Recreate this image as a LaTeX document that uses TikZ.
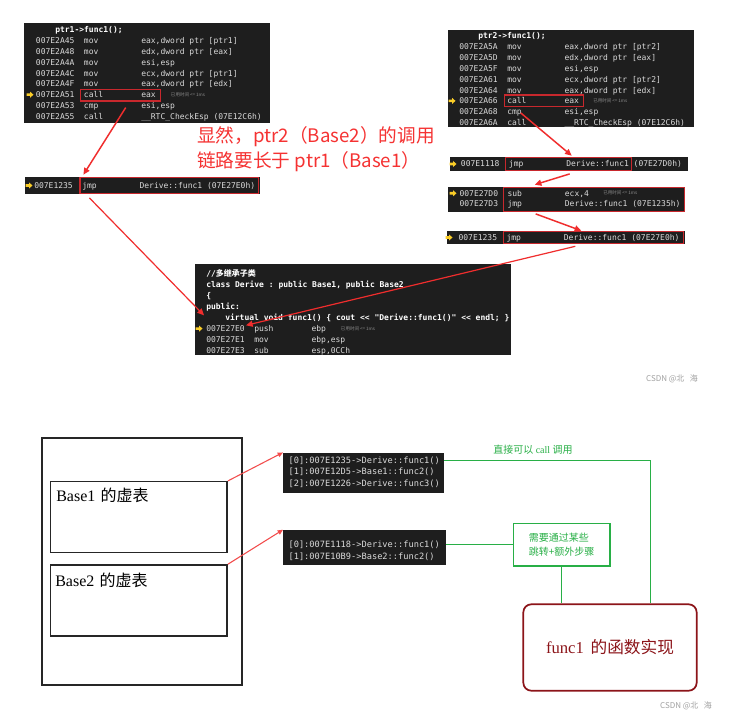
\documentclass[tikz,border=0pt]{standalone}
\usepackage{fontspec}
\setmainfont{Liberation Serif}
\setmonofont{DejaVu Sans Mono}
\newfontfamily\cjk{Noto Sans CJK SC}
\usepackage{tikz}
\usetikzlibrary{arrows.meta,positioning,calc,fit}
\definecolor{vsdark}{RGB}{30,30,30}
\definecolor{vstext}{RGB}{218,218,218}
\definecolor{vsgrey}{RGB}{140,140,140}
\definecolor{markred}{RGB}{200,40,45}
\definecolor{arrowred}{RGB}{240,45,45}
\definecolor{notered}{RGB}{245,50,50}
\definecolor{linkgreen}{RGB}{40,175,70}
\definecolor{implred}{RGB}{140,20,25}
\definecolor{pinyellow}{RGB}{250,205,40}
\definecolor{wmgrey}{RGB}{160,160,160}

% one disassembly row: name, x, y, address, mnemonic, operands
\newcommand{\asmrow}[6]{%
  \node[code] (#1) at (#2,#3) {\makebox[36pt][l]{#4}\makebox[43pt][l]{#5}#6};}
% yellow current-line marker
\newcommand{\pin}[2]{%
  \fill[pinyellow] (#1,#2) ++(-3.5,-1.3) -- ++(3.5,0) -- ++(0,-1.8) -- ++(3.5,3.1)
    -- ++(-3.5,3.1) -- ++(0,-1.8) -- ++(-3.5,0) -- cycle;}
\newcommand{\took}[3]{\node[took] (#1) at (#2,#3) {已用时间 <= 1ms};}

\begin{document}
\begin{tikzpicture}[x=0.75pt,y=-0.75pt,
  panel/.style={fill=vsdark,inner sep=0pt},
  markbox/.style={draw=markred,line width=0.9pt,inner sep=0pt},
  code/.style={anchor=base west,yshift=-2.2pt,inner sep=0pt,text=vstext,font=\ttfamily\fontsize{6}{7}\selectfont},
  head/.style={code,text=white,font=\ttfamily\bfseries\fontsize{6}{7}\selectfont},
  took/.style={anchor=west,inner sep=0pt,text=vsgrey,font=\cjk\fontsize{3.4}{4}\selectfont},
  vrow/.style={anchor=base west,yshift=-2.35pt,inner sep=0pt,text=vstext,font=\ttfamily\fontsize{6.5}{7.5}\selectfont},
  arr/.style={draw=arrowred,line width=1.1pt,-{Triangle[length=5pt,width=4.5pt]}},
  farr/.style={arr,line width=0.9pt},
  arr2/.style={draw=arrowred!85,line width=0.8pt,-{Triangle[length=4pt,width=3.5pt]}},
  box/.style={draw=black!85,line width=1.1pt,inner sep=0pt},
  vtbox/.style={box,minimum width=132.5pt,minimum height=53.3pt},
  vlabel/.style={anchor=base west,inner sep=0pt,font=\fontsize{12}{14}\selectfont},
  glink/.style={draw=linkgreen,line width=1pt},
  gtext/.style={text=linkgreen,font=\cjk\fontsize{7.5}{10.5}\selectfont},
  wm/.style={text=wmgrey,inner sep=0pt,font=\cjk\fontsize{6}{7}\selectfont}]
\fill[white] (0,0) rectangle (746,713);
\useasboundingbox (0,0) rectangle (746,713);

%% ptr1 call
\node[panel,fit={(24,23) (270,123)}] (tlp) {};
\node[markbox,fit={(80.7,89.3) (160.7,101)}] (call1) {};
\node[head] (tlh) at (55,30) {ptr1->func1();};
\asmrow{tl1}{35.7}{40.7}{007E2A45}{mov}{eax,dword ptr [ptr1]}
\asmrow{tl2}{35.7}{51.5}{007E2A48}{mov}{edx,dword ptr [eax]}
\asmrow{tl3}{35.7}{62.3}{007E2A4A}{mov}{esi,esp}
\asmrow{tl4}{35.7}{73.1}{007E2A4C}{mov}{ecx,dword ptr [ptr1]}
\asmrow{tl5}{35.7}{83.9}{007E2A4F}{mov}{eax,dword ptr [edx]}
\asmrow{tl6}{35.7}{94.7}{007E2A51}{call}{eax}
\asmrow{tl7}{35.7}{105.5}{007E2A53}{cmp}{esi,esp}
\asmrow{tl8}{35.7}{116.3}{007E2A55}{call}{\_\_RTC\_CheckEsp (07E12C6h)}
\pin{30}{94.7}
\took{tlt}{170.7}{94.7}

%% ptr2 call
\node[panel,fit={(448.3,30) (694,126.7)}] (trp) {};
\node[markbox,fit={(504.3,95) (583.3,106.3)}] (call2) {};
\node[head] (trh) at (478,35.5) {ptr2->func1();};
\asmrow{tr1}{459}{46.9}{007E2A5A}{mov}{eax,dword ptr [ptr2]}
\asmrow{tr2}{459}{57.7}{007E2A5D}{mov}{edx,dword ptr [eax]}
\asmrow{tr3}{459}{68.5}{007E2A5F}{mov}{esi,esp}
\asmrow{tr4}{459}{79.3}{007E2A61}{mov}{ecx,dword ptr [ptr2]}
\asmrow{tr5}{459}{90.1}{007E2A64}{mov}{eax,dword ptr [edx]}
\asmrow{tr6}{459}{100.9}{007E2A66}{call}{eax}
\asmrow{tr7}{459}{111.7}{007E2A68}{cmp}{esi,esp}
\asmrow{tr8}{459}{122.5}{007E2A6A}{call}{\_\_RTC\_CheckEsp (07E12C6h)}
\pin{452}{100.9}
\took{trt}{593}{100.9}

%% note
\node[anchor=west,align=left,inner sep=0pt,text=notered,font=\cjk\fontsize{14}{18.75}\selectfont] (note) at (197,149.5)
  {显然，ptr2（Base2）的调用\\链路要长于 ptr1（Base1）};

%% thunks
\node[panel,fit={(25,177) (260,194)}] (jlp) {};
\node[markbox,fit={(80,177.3) (258.3,193.3)}] (jl) {};
\asmrow{l1}{34}{185.5}{007E1235}{jmp}{Derive::func1 (07E27E0h)}
\pin{29}{185.5}

\node[panel,fit={(450,156.7) (688,170.7)}] (j1p) {};
\node[markbox,fit={(505.7,157.3) (631.7,170.3)}] (jb1) {};
\asmrow{r1}{460.7}{164}{007E1118}{jmp}{Derive::func1 (07E27D0h)}
\pin{453}{164}

\node[panel,fit={(448.3,186.7) (685,211.7)}] (j2p) {};
\node[markbox,fit={(503.3,187.3) (684.5,211.3)}] (jb2) {};
\asmrow{r2}{459.3}{193.3}{007E27D0}{sub}{ecx,4}
\asmrow{r3}{459.3}{204}{007E27D3}{jmp}{Derive::func1 (07E1235h)}
\pin{453}{193.3}
\took{r2t}{603}{193.3}

\node[panel,fit={(446.7,231) (685,244)}] (j3p) {};
\node[markbox,fit={(503.3,231.3) (683.3,243.7)}] (jb3) {};
\asmrow{r4}{458.3}{237.5}{007E1235}{jmp}{Derive::func1 (07E27E0h)}
\pin{449}{237.5}

%% Derive::func1
\node[panel,fit={(195,264) (511,355)}] (cpp) {};
\node[head] (cp1) at (206,274) {//{\cjk 多继承子类}};
\node[head] (cp2) at (206,284.8) {class Derive : public Base1, public Base2};
\node[head] (cp3) at (206,295.6) {\{};
\node[head] (cp4) at (206,306.4) {public:};
\node[head] (cp5) at (225,317.2) {virtual void func1() \{ cout << "Derive::func1()" << endl; \}};
\asmrow{cp6}{206}{328.6}{007E27E0}{push}{ebp}
\asmrow{cp7}{206}{339.4}{007E27E1}{mov}{ebp,esp}
\asmrow{cp8}{206}{350.2}{007E27E3}{sub}{esp,0CCh}
\pin{199}{328.6}
\took{cpt}{340.7}{328.6}

\draw[arr] ($(call1.south)+(5,6)$) -- ($(jl.north west)+(4,-2)$);
\draw[arr] ($(call2.south west)+(17,6)$) -- ($(jb1.north)+(3,-1)$);
\draw[arr] ($(jb1.south)+(1,3)$) -- ($(jb2.north west)+(32,-2)$);
\draw[arr] ($(jb2.south west)+(33,2)$) -- ($(jb3.north)+(-12,0)$);
\draw[farr] ($(jb3.south)+(-18,2)$) -- ($(cp6.west)+(40,-4)$);
\draw[farr] ($(jl.south west)+(10,4)$) -- ($(cp6.west)+(-2,-14)$);

\node[wm] (wm1) at (672,379) {CSDN @北\hspace{4pt}海};

%% object layout
\node[box,minimum width=150pt,minimum height=185.3pt] (obj) at (142,561.5) {};
\node[vtbox] (vb1) at (138.8,517.2) {};
\node[vtbox] (vb2) at (138.8,600.5) {};
\node[vlabel] (vb1l) at (56,501) {Base1\hspace{4pt}{\cjk 的虚表}};
\node[vlabel] (vb2l) at (55,586.5) {Base2\hspace{4pt}{\cjk 的虚表}};

\node[panel,fit={(283.3,452.7) (444,493.3)}] (vt1) {};
\foreach \t [count=\i from 0] in {{[0]:007E1235->Derive::func1()},{[1]:007E12D5->Base1::func2()},{[2]:007E1226->Derive::func3()}}
  \node[vrow] (vt1-\i) at (288.3,460+11.7*\i) {\t};
\node[panel,fit={(283.3,530) (445.7,565)}] (vt2) {};
\foreach \t [count=\i from 0] in {{[0]:007E1118->Derive::func1()},{[1]:007E10B9->Base2::func2()}}
  \node[vrow] (vt2-\i) at (288.3,544.3+12.4*\i) {\t};

\draw[arr2] (vb1.north east) -- (vt1.north west);
\draw[arr2] (vb2.north east) -- (vt2.north west);

\node[draw=implred,line width=1.3pt,rounded corners=6pt,minimum width=130pt,minimum height=64.8pt,
  text=implred,font=\fontsize{12.5}{14}\selectfont] (impl) at (610,647.5) {func1\hspace{5pt}{\cjk 的函数实现}};
\node[draw=linkgreen,line width=1pt,minimum width=72.5pt,minimum height=32pt,align=left,gtext] (jmpbox) at (561.7,544.7)
  {需要通过某些\\跳转+额外步骤};
\coordinate (turn) at (650.7,459.3);
\draw[glink] (vt1.east |- vt1-0.west) -| (turn |- impl.north);
\node[gtext,font=\fontsize{7.5}{9}\selectfont] (direct) at (533,450) {{\cjk 直接可以} call {\cjk 调用}};
\draw[glink] (vt2.east |- jmpbox.west) -- (jmpbox.west);
\draw[glink] (jmpbox.south) -- (jmpbox.south |- impl.north);

\node[wm] (wm2) at (686,706) {CSDN @北\hspace{4pt}海};
\end{tikzpicture}
\end{document}
